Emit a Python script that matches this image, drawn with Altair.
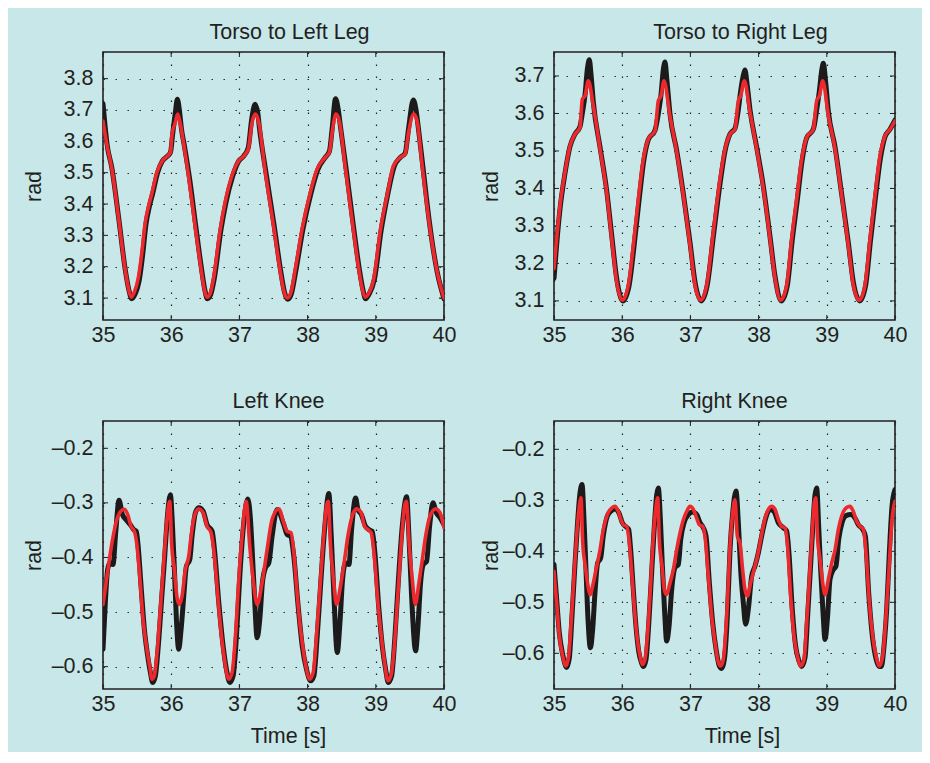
import altair as alt
import pandas as pd

FONT = "Liberation Sans"
FS = 21.5
BG = "#c8e7e8"
INK = "#231f20"
BLACK = "#1c1a1b"
RED = "#ec2a2e"
W, H = 341, 268

TIME_TICKS = [35, 36, 37, 38, 39, 40]
TL_TICKS = [3.1, 3.2, 3.3, 3.4, 3.5, 3.6, 3.7, 3.8]
TR_TICKS = [3.1, 3.2, 3.3, 3.4, 3.5, 3.6, 3.7]
KNEE_TICKS = [-0.6, -0.5, -0.4, -0.3, -0.2]

# ---------------- Torso to Left Leg ----------------
TL_BLACK = [
    (35.00, 3.720), (35.03, 3.650), (35.06, 3.590), (35.13, 3.515), (35.23, 3.355),
    (35.33, 3.185), (35.38, 3.125), (35.42, 3.098), (35.47, 3.112), (35.53, 3.155),
    (35.58, 3.235), (35.63, 3.335), (35.68, 3.392), (35.73, 3.435), (35.80, 3.500),
    (35.87, 3.537), (35.94, 3.552), (35.99, 3.565), (36.02, 3.620), (36.06, 3.690),
    (36.09, 3.734), (36.12, 3.700), (36.15, 3.640), (36.19, 3.590), (36.27, 3.480),
    (36.36, 3.330), (36.44, 3.200), (36.49, 3.130), (36.53, 3.098), (36.58, 3.112),
    (36.63, 3.160), (36.73, 3.318), (36.80, 3.402), (36.90, 3.488), (36.99, 3.537),
    (37.06, 3.552), (37.13, 3.580), (37.18, 3.670), (37.23, 3.718), (37.27, 3.690),
    (37.29, 3.650), (37.39, 3.500), (37.51, 3.330), (37.61, 3.180), (37.66, 3.120),
    (37.71, 3.096), (37.76, 3.112), (37.83, 3.190), (37.93, 3.318), (38.05, 3.435),
    (38.15, 3.510), (38.26, 3.549), (38.32, 3.568), (38.36, 3.640), (38.41, 3.736),
    (38.45, 3.700), (38.48, 3.650), (38.56, 3.520), (38.66, 3.350), (38.76, 3.190),
    (38.81, 3.128), (38.85, 3.098), (38.90, 3.112), (38.98, 3.160), (39.08, 3.318),
    (39.17, 3.425), (39.27, 3.520), (39.36, 3.549), (39.43, 3.562), (39.48, 3.640),
    (39.55, 3.732), (39.59, 3.700), (39.62, 3.650), (39.69, 3.520), (39.78, 3.352),
    (39.90, 3.183), (40.00, 3.098),
]
TL_RED = [
    (35.00, 3.665), (35.06, 3.586), (35.13, 3.512), (35.23, 3.352), (35.33, 3.183),
    (35.38, 3.124), (35.415, 3.103), (35.46, 3.119), (35.52, 3.167), (35.57, 3.246),
    (35.62, 3.342), (35.67, 3.395), (35.72, 3.437), (35.79, 3.501), (35.87, 3.538),
    (35.94, 3.552), (35.99, 3.565), (36.01, 3.618), (36.06, 3.660), (36.095, 3.687),
    (36.13, 3.660), (36.18, 3.596), (36.26, 3.480), (36.35, 3.331), (36.43, 3.204),
    (36.48, 3.135), (36.525, 3.103), (36.57, 3.114), (36.62, 3.162), (36.72, 3.321),
    (36.79, 3.405), (36.89, 3.490), (36.99, 3.538), (37.06, 3.552), (37.13, 3.575),
    (37.185, 3.660), (37.235, 3.687), (37.28, 3.665), (37.38, 3.501), (37.50, 3.331),
    (37.60, 3.183), (37.65, 3.124), (37.70, 3.100), (37.75, 3.114), (37.82, 3.193),
    (37.92, 3.321), (38.04, 3.437), (38.14, 3.512), (38.26, 3.549), (38.32, 3.565),
    (38.36, 3.628), (38.415, 3.687), (38.465, 3.665), (38.55, 3.522), (38.65, 3.352),
    (38.75, 3.193), (38.80, 3.130), (38.845, 3.103), (38.895, 3.114), (38.97, 3.162),
    (39.07, 3.321), (39.165, 3.427), (39.26, 3.522), (39.36, 3.549), (39.43, 3.560),
    (39.48, 3.628), (39.555, 3.687), (39.605, 3.665), (39.68, 3.522), (39.775, 3.352),
    (39.90, 3.183), (40.00, 3.100),
]

# ---------------- Torso to Right Leg ----------------
TR_BLACK = [
    (35.000, 3.160), (35.039, 3.250), (35.088, 3.345), (35.161, 3.440), (35.235, 3.512),
    (35.308, 3.545), (35.381, 3.565), (35.415, 3.600), (35.455, 3.650), (35.490, 3.720),
    (35.518, 3.743), (35.545, 3.700), (35.577, 3.630), (35.675, 3.510), (35.772, 3.395),
    (35.846, 3.275), (35.919, 3.160), (36.010, 3.100), (36.100, 3.140), (36.170, 3.240),
    (36.245, 3.365), (36.317, 3.475), (36.383, 3.530), (36.481, 3.555), (36.530, 3.600),
    (36.569, 3.650), (36.605, 3.720), (36.628, 3.737), (36.655, 3.690), (36.700, 3.600),
    (36.800, 3.500), (36.897, 3.385), (36.995, 3.255), (37.068, 3.150), (37.160, 3.100),
    (37.245, 3.140), (37.342, 3.280), (37.440, 3.420), (37.508, 3.500), (37.581, 3.545),
    (37.654, 3.560), (37.703, 3.610), (37.737, 3.660), (37.780, 3.705), (37.800, 3.716),
    (37.830, 3.680), (37.874, 3.610), (37.972, 3.510), (38.070, 3.405), (38.167, 3.272),
    (38.241, 3.165), (38.332, 3.100), (38.420, 3.140), (38.492, 3.260), (38.565, 3.365),
    (38.638, 3.475), (38.705, 3.535), (38.803, 3.558), (38.852, 3.610), (38.891, 3.660),
    (38.930, 3.720), (38.950, 3.734), (38.980, 3.690), (39.023, 3.605), (39.121, 3.510),
    (39.218, 3.385), (39.316, 3.255), (39.389, 3.150), (39.485, 3.100), (39.568, 3.140),
    (39.640, 3.260), (39.713, 3.375), (39.786, 3.480), (39.854, 3.538), (39.927, 3.558),
    (40.000, 3.582),
]
TR_RED = [
    (35.000, 3.186), (35.039, 3.266), (35.088, 3.354), (35.161, 3.443), (35.235, 3.514),
    (35.308, 3.545), (35.381, 3.563), (35.415, 3.638), (35.455, 3.647), (35.503, 3.687),
    (35.577, 3.620), (35.675, 3.505), (35.772, 3.390), (35.846, 3.266), (35.919, 3.151),
    (36.002, 3.102), (36.090, 3.142), (36.163, 3.248), (36.237, 3.372), (36.310, 3.478),
    (36.383, 3.532), (36.481, 3.554), (36.530, 3.634), (36.569, 3.647), (36.613, 3.687),
    (36.700, 3.594), (36.800, 3.496), (36.897, 3.381), (36.995, 3.248), (37.068, 3.142),
    (37.151, 3.102), (37.239, 3.142), (37.336, 3.284), (37.434, 3.425), (37.508, 3.505),
    (37.581, 3.545), (37.654, 3.558), (37.703, 3.634), (37.737, 3.647), (37.791, 3.687),
    (37.874, 3.603), (37.972, 3.505), (38.070, 3.399), (38.167, 3.266), (38.241, 3.160),
    (38.324, 3.102), (38.412, 3.142), (38.485, 3.266), (38.558, 3.372), (38.632, 3.478),
    (38.705, 3.536), (38.803, 3.558), (38.852, 3.634), (38.891, 3.647), (38.940, 3.687),
    (39.023, 3.594), (39.121, 3.505), (39.218, 3.381), (39.316, 3.248), (39.389, 3.142),
    (39.477, 3.102), (39.560, 3.142), (39.634, 3.266), (39.707, 3.381), (39.780, 3.487),
    (39.854, 3.540), (39.927, 3.558), (40.000, 3.580),
]

# ---------------- Left Knee ----------------
LK_BLACK = [
    (35.000, -0.568), (35.034, -0.483), (35.068, -0.422), (35.098, -0.410), (35.147, -0.413),
    (35.186, -0.355), (35.235, -0.295), (35.284, -0.321), (35.333, -0.330), (35.401, -0.340),
    (35.450, -0.349), (35.489, -0.352), (35.519, -0.385), (35.558, -0.452), (35.607, -0.532),
    (35.656, -0.581), (35.695, -0.611), (35.729, -0.629), (35.768, -0.617), (35.807, -0.568),
    (35.856, -0.483), (35.905, -0.398), (35.949, -0.318), (35.988, -0.285), (36.017, -0.337),
    (36.047, -0.422), (36.076, -0.513), (36.110, -0.568), (36.145, -0.532), (36.184, -0.471),
    (36.223, -0.416), (36.272, -0.404), (36.306, -0.361), (36.355, -0.318), (36.404, -0.309),
    (36.468, -0.315), (36.526, -0.340), (36.600, -0.352), (36.634, -0.385), (36.698, -0.483),
    (36.761, -0.562), (36.810, -0.605), (36.859, -0.629), (36.908, -0.617), (36.957, -0.544),
    (37.006, -0.434), (37.064, -0.337), (37.123, -0.293), (37.162, -0.330), (37.187, -0.385),
    (37.221, -0.471), (37.260, -0.547), (37.299, -0.513), (37.338, -0.446), (37.382, -0.419),
    (37.431, -0.410), (37.480, -0.361), (37.553, -0.312), (37.651, -0.340), (37.700, -0.358),
    (37.749, -0.361), (37.798, -0.398), (37.857, -0.483), (37.921, -0.562), (37.984, -0.605),
    (38.043, -0.626), (38.092, -0.617), (38.141, -0.544), (38.190, -0.452), (38.249, -0.349),
    (38.312, -0.283), (38.347, -0.361), (38.386, -0.471), (38.435, -0.574), (38.474, -0.520),
    (38.513, -0.440), (38.557, -0.410), (38.606, -0.413), (38.645, -0.349), (38.704, -0.291),
    (38.738, -0.312), (38.787, -0.321), (38.850, -0.343), (38.899, -0.349), (38.948, -0.352),
    (38.982, -0.385), (39.046, -0.495), (39.095, -0.562), (39.144, -0.605), (39.183, -0.629),
    (39.232, -0.617), (39.281, -0.544), (39.329, -0.446), (39.388, -0.343), (39.452, -0.289),
    (39.486, -0.361), (39.525, -0.471), (39.584, -0.571), (39.618, -0.526), (39.657, -0.446),
    (39.696, -0.413), (39.745, -0.407), (39.789, -0.343), (39.838, -0.300), (39.887, -0.318),
    (39.941, -0.327), (40.000, -0.340),
]
LK_RED = [
    (35.000, -0.486), (35.059, -0.434), (35.132, -0.373), (35.205, -0.330), (35.264, -0.315),
    (35.313, -0.312), (35.362, -0.321), (35.411, -0.343), (35.460, -0.352), (35.499, -0.379),
    (35.538, -0.434), (35.587, -0.513), (35.636, -0.562), (35.685, -0.599), (35.719, -0.623),
    (35.753, -0.617), (35.793, -0.574), (35.841, -0.495), (35.890, -0.410), (35.939, -0.330),
    (35.978, -0.297), (36.008, -0.379), (36.047, -0.422), (36.086, -0.474), (36.120, -0.486),
    (36.159, -0.471), (36.208, -0.422), (36.257, -0.398), (36.292, -0.361), (36.340, -0.324),
    (36.404, -0.311), (36.468, -0.318), (36.526, -0.343), (36.585, -0.355), (36.634, -0.398),
    (36.683, -0.471), (36.732, -0.538), (36.781, -0.587), (36.844, -0.623), (36.893, -0.611),
    (36.942, -0.544), (36.991, -0.440), (37.040, -0.361), (37.099, -0.297), (37.152, -0.379),
    (37.201, -0.440), (37.260, -0.486), (37.333, -0.446), (37.407, -0.385), (37.480, -0.330),
    (37.578, -0.311), (37.651, -0.337), (37.700, -0.352), (37.759, -0.355), (37.798, -0.391),
    (37.837, -0.452), (37.886, -0.520), (37.935, -0.568), (37.984, -0.605), (38.033, -0.623),
    (38.082, -0.611), (38.130, -0.544), (38.179, -0.459), (38.228, -0.373), (38.277, -0.306),
    (38.302, -0.297), (38.336, -0.379), (38.375, -0.434), (38.424, -0.486), (38.483, -0.452),
    (38.542, -0.404), (38.591, -0.361), (38.654, -0.324), (38.718, -0.311), (38.786, -0.318),
    (38.835, -0.343), (38.884, -0.349), (38.933, -0.355), (38.982, -0.404), (39.031, -0.483),
    (39.080, -0.544), (39.129, -0.593), (39.178, -0.626), (39.227, -0.614), (39.276, -0.556),
    (39.325, -0.465), (39.374, -0.373), (39.422, -0.306), (39.447, -0.297), (39.491, -0.379),
    (39.535, -0.440), (39.579, -0.486), (39.633, -0.446), (39.682, -0.404), (39.731, -0.361),
    (39.795, -0.324), (39.878, -0.311), (39.941, -0.318), (40.000, -0.346),
]

# ---------------- Right Knee ----------------
RK_BLACK = [
    (35.000, -0.426), (35.039, -0.494), (35.078, -0.560), (35.127, -0.602), (35.186, -0.628),
    (35.225, -0.609), (35.264, -0.527), (35.303, -0.436), (35.342, -0.351), (35.381, -0.286),
    (35.411, -0.269), (35.440, -0.338), (35.469, -0.436), (35.499, -0.534), (35.533, -0.589),
    (35.567, -0.553), (35.601, -0.481), (35.640, -0.423), (35.684, -0.413), (35.723, -0.370),
    (35.782, -0.331), (35.846, -0.320), (35.895, -0.317), (35.953, -0.325), (36.002, -0.344),
    (36.056, -0.352), (36.095, -0.357), (36.124, -0.397), (36.163, -0.475), (36.202, -0.547),
    (36.242, -0.596), (36.281, -0.618), (36.310, -0.626), (36.349, -0.612), (36.393, -0.534),
    (36.432, -0.442), (36.471, -0.351), (36.506, -0.289), (36.530, -0.276), (36.560, -0.338),
    (36.589, -0.429), (36.623, -0.521), (36.652, -0.576), (36.687, -0.547), (36.726, -0.475),
    (36.775, -0.432), (36.823, -0.426), (36.858, -0.377), (36.907, -0.344), (36.970, -0.328),
    (37.034, -0.323), (37.092, -0.328), (37.141, -0.344), (37.190, -0.354), (37.229, -0.370),
    (37.278, -0.462), (37.327, -0.540), (37.376, -0.592), (37.424, -0.625), (37.459, -0.630),
    (37.498, -0.612), (37.542, -0.527), (37.581, -0.397), (37.620, -0.325), (37.669, -0.282),
    (37.703, -0.344), (37.737, -0.436), (37.776, -0.501), (37.810, -0.543), (37.849, -0.514),
    (37.898, -0.449), (37.947, -0.429), (37.996, -0.403), (38.045, -0.370), (38.104, -0.335),
    (38.167, -0.318), (38.226, -0.322), (38.290, -0.344), (38.363, -0.354), (38.411, -0.360),
    (38.445, -0.403), (38.494, -0.514), (38.543, -0.586), (38.592, -0.615), (38.631, -0.626),
    (38.680, -0.609), (38.719, -0.527), (38.759, -0.436), (38.798, -0.344), (38.827, -0.289),
    (38.852, -0.276), (38.881, -0.351), (38.910, -0.436), (38.945, -0.521), (38.974, -0.573),
    (39.008, -0.534), (39.047, -0.455), (39.096, -0.436), (39.135, -0.429), (39.174, -0.377),
    (39.223, -0.344), (39.282, -0.330), (39.350, -0.328), (39.414, -0.335), (39.462, -0.348),
    (39.526, -0.357), (39.565, -0.370), (39.614, -0.481), (39.663, -0.560), (39.712, -0.605),
    (39.761, -0.625), (39.800, -0.626), (39.839, -0.586), (39.878, -0.514), (39.917, -0.403),
    (39.956, -0.312), (40.000, -0.279),
]
RK_RED = [
    (35.000, -0.439), (35.039, -0.501), (35.078, -0.566), (35.127, -0.605), (35.176, -0.625),
    (35.215, -0.605), (35.254, -0.534), (35.293, -0.449), (35.332, -0.370), (35.371, -0.312),
    (35.396, -0.295), (35.420, -0.380), (35.459, -0.429), (35.499, -0.468), (35.528, -0.485),
    (35.577, -0.462), (35.626, -0.429), (35.675, -0.397), (35.723, -0.357), (35.782, -0.328),
    (35.846, -0.315), (35.895, -0.312), (35.943, -0.322), (35.982, -0.338), (36.017, -0.348),
    (36.066, -0.351), (36.105, -0.384), (36.144, -0.449), (36.188, -0.527), (36.222, -0.573),
    (36.261, -0.605), (36.295, -0.622), (36.334, -0.612), (36.383, -0.540), (36.418, -0.462),
    (36.457, -0.370), (36.496, -0.312), (36.520, -0.295), (36.545, -0.380), (36.584, -0.429),
    (36.618, -0.475), (36.652, -0.485), (36.701, -0.462), (36.750, -0.436), (36.799, -0.397),
    (36.848, -0.364), (36.897, -0.338), (36.945, -0.322), (36.994, -0.312), (37.043, -0.318),
    (37.092, -0.335), (37.131, -0.348), (37.180, -0.351), (37.219, -0.377), (37.263, -0.449),
    (37.312, -0.527), (37.361, -0.579), (37.410, -0.618), (37.444, -0.625), (37.483, -0.612),
    (37.532, -0.527), (37.581, -0.390), (37.620, -0.325), (37.654, -0.299), (37.688, -0.370),
    (37.727, -0.384), (37.766, -0.436), (37.800, -0.475), (37.834, -0.488), (37.883, -0.462),
    (37.933, -0.436), (37.982, -0.410), (38.030, -0.377), (38.079, -0.344), (38.143, -0.318),
    (38.192, -0.312), (38.241, -0.318), (38.290, -0.338), (38.338, -0.351), (38.387, -0.354),
    (38.421, -0.384), (38.470, -0.488), (38.519, -0.566), (38.568, -0.605), (38.617, -0.625),
    (38.666, -0.612), (38.705, -0.540), (38.744, -0.455), (38.783, -0.370), (38.817, -0.305),
    (38.837, -0.295), (38.866, -0.377), (38.901, -0.416), (38.940, -0.462), (38.974, -0.485),
    (39.023, -0.455), (39.072, -0.423), (39.121, -0.397), (39.170, -0.357), (39.218, -0.331),
    (39.282, -0.315), (39.340, -0.312), (39.389, -0.322), (39.438, -0.341), (39.487, -0.351),
    (39.536, -0.357), (39.575, -0.403), (39.624, -0.501), (39.673, -0.566), (39.722, -0.605),
    (39.771, -0.625), (39.820, -0.605), (39.868, -0.527), (39.917, -0.423), (39.956, -0.338),
    (40.000, -0.302),
]

LABEL_EXPR = ("replace(replace(format(datum.value, '.1f'), '\u2212', '\u2013'), '-', '\u2013')")


def panel(title, title_dx, black, red, ydom, yticks, rad_x, time_x=None):
    xscale = alt.Scale(domain=[35, 40], nice=False, zero=False)
    yscale = alt.Scale(domain=ydom, nice=False, zero=False)
    if time_x is None:
        xaxis = alt.Axis(values=TIME_TICKS, format="d", title=None)
    else:
        xaxis = alt.Axis(values=TIME_TICKS, format="d", title="Time [s]",
                         titleX=time_x, titleY=53, titleBaseline="alphabetic",
                         titleAlign="center")
    yaxis = alt.Axis(values=yticks, labelExpr=LABEL_EXPR, title="rad",
                     titleX=rad_x, titleY=H / 2, titleAngle=270,
                     titleBaseline="middle", titleAlign="center")

    df_b = pd.DataFrame(black, columns=["t", "v"])
    df_r = pd.DataFrame(red, columns=["t", "v"])
    xt = pd.DataFrame({"t": TIME_TICKS})
    yt = pd.DataFrame({"v": yticks})

    X = alt.X("t:Q", scale=xscale, axis=xaxis)
    Y = alt.Y("v:Q", scale=yscale, axis=yaxis)

    line_b = alt.Chart(df_b).mark_line(color=BLACK, strokeWidth=5, interpolate="monotone",
                                       clip=True, strokeCap="round", strokeJoin="round").encode(
        x=X, y=Y, order="t:Q")
    line_r = alt.Chart(df_r).mark_line(color=RED, strokeWidth=3.6, interpolate="monotone",
                                       clip=True, strokeCap="round", strokeJoin="round").encode(
        x=X, y=Y, order="t:Q")

    tick_kw = dict(color=INK, strokeWidth=1)
    xticks_b = alt.Chart(xt).mark_rule(**tick_kw).encode(
        x=X, y=alt.value(H), y2=alt.value(H - 5))
    xticks_t = alt.Chart(xt).mark_rule(**tick_kw).encode(
        x=X, y=alt.value(0), y2=alt.value(5))
    yticks_l = alt.Chart(yt).mark_rule(**tick_kw).encode(
        y=Y, x=alt.value(0), x2=alt.value(5))
    yticks_r = alt.Chart(yt).mark_rule(**tick_kw).encode(
        y=Y, x=alt.value(W - 5), x2=alt.value(W))

    head = alt.Chart(pd.DataFrame({"label": [title]})).mark_text(
        font=FONT, fontSize=FS, color=INK, baseline="alphabetic", align="center"
    ).encode(text="label:N", x=alt.value(W / 2 + title_dx), y=alt.value(-13.4))

    return alt.layer(line_b, xticks_b, xticks_t, yticks_l, yticks_r, line_r, head).properties(
        width=W, height=H)


tl = panel("Torso to Left Leg", 16, TL_BLACK, TL_RED, [3.030, 3.885], TL_TICKS, -69)
tr = panel("Torso to Right Leg", 16, TR_BLACK, TR_RED, [3.049, 3.764], TR_TICKS, -63)
bl = panel("Left Knee", 5, LK_BLACK, LK_RED, [-0.641, -0.150], KNEE_TICKS, -69, time_x=185)
br = panel("Right Knee", 10, RK_BLACK, RK_RED, [-0.670, -0.1445], KNEE_TICKS, -63, time_x=188)

chart = alt.vconcat(
    alt.hconcat(tl, tr, spacing=22),
    alt.hconcat(bl, br, spacing=22),
    spacing=42,
).properties(
    padding={"left": 14, "top": 12, "right": 14, "bottom": 4},
    background=BG,
).configure_view(
    stroke=INK, strokeWidth=1.6
).configure_axis(
    domain=False, ticks=False, tickSize=0, labelFlush=False,
    grid=True, gridColor="#222222", gridDash=[1.4, 10.6], gridWidth=1.2, gridOpacity=1,
    labelFont=FONT, labelFontSize=FS, labelColor=INK, labelPadding=4,
    titleFont=FONT, titleFontSize=FS, titleFontWeight="normal", titleColor=INK,
).configure_axisY(labelPadding=10)

chart.save("out.html", embed_options={"renderer": "svg", "actions": False})
